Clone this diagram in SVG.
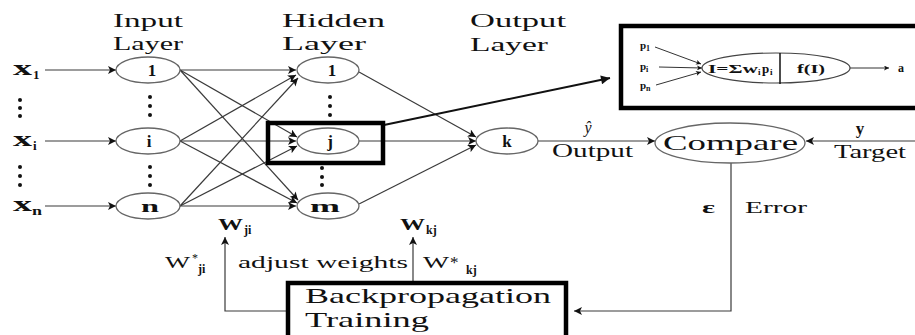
<svg xmlns="http://www.w3.org/2000/svg" width="915" height="335" viewBox="0 0 915 335">
<style>
text{font-family:"Liberation Serif","Times New Roman",serif;fill:#111}
.b{font-weight:bold}
.h{font-size:19px}
.nd{fill:#fff;stroke:#666;stroke-width:1.3}
.ln{stroke:#3a3a3a;stroke-width:1.2;fill:none}
.lk{stroke:#3a3a3a;stroke-width:1.2;fill:none;marker-end:url(#ah)}
.thick{fill:none;stroke:#000;stroke-width:4.5}
.lab{font-size:17px;font-weight:bold}
.dot{fill:#111}
</style>
<defs>
<marker id="ah" viewBox="0 0 10 10" refX="10" refY="5" markerWidth="9" markerHeight="8" markerUnits="userSpaceOnUse" orient="auto">
<path d="M0,0 L10,5 L0,10 L2.5,5 z" fill="#111"/>
</marker>
<marker id="as" viewBox="0 0 10 10" refX="10" refY="5" markerWidth="6" markerHeight="5" markerUnits="userSpaceOnUse" orient="auto">
<path d="M0,0 L10,5 L0,10 L2.5,5 z" fill="#111"/>
</marker>
<marker id="ab" viewBox="0 0 10 10" refX="10" refY="5" markerWidth="13" markerHeight="9" markerUnits="userSpaceOnUse" orient="auto">
<path d="M0,0 L10,5 L0,10 z" fill="#111"/>
</marker>
</defs>

<!-- layer titles -->
<g id="titles">
<text class="h" x="113" y="27" textLength="70" lengthAdjust="spacingAndGlyphs">Input</text>
<text class="h" x="113" y="50" textLength="70" lengthAdjust="spacingAndGlyphs">Layer</text>
<text class="h" x="282" y="27" textLength="103" lengthAdjust="spacingAndGlyphs">Hidden</text>
<text class="h" x="282" y="50" textLength="84" lengthAdjust="spacingAndGlyphs">Layer</text>
<text class="h" x="470" y="27" textLength="96" lengthAdjust="spacingAndGlyphs">Output</text>
<text class="h" x="470" y="51" textLength="78" lengthAdjust="spacingAndGlyphs">Layer</text>
</g>

<!-- connectors -->
<g id="connectors">
<line class="lk" x1="45" y1="70" x2="116" y2="70"/>
<line class="lk" x1="45" y1="141" x2="116" y2="141"/>
<line class="lk" x1="45" y1="206" x2="116" y2="206"/>
<line class="lk" x1="180" y1="70" x2="296" y2="70"/>
<line class="lk" x1="180" y1="70" x2="297" y2="137"/>
<line class="lk" x1="180" y1="70" x2="298" y2="200"/>
<line class="lk" x1="180" y1="141" x2="296" y2="75"/>
<line class="lk" x1="180" y1="141" x2="296" y2="141"/>
<line class="lk" x1="180" y1="141" x2="297" y2="203"/>
<line class="lk" x1="180" y1="206" x2="298" y2="78"/>
<line class="lk" x1="180" y1="206" x2="297" y2="146"/>
<line class="lk" x1="180" y1="206" x2="296" y2="206"/>
<line class="lk" x1="359" y1="72" x2="476" y2="137"/>
<line class="lk" x1="359" y1="141" x2="476" y2="141"/>
<line class="lk" x1="359" y1="204" x2="476" y2="145"/>
<line class="lk" x1="538" y1="141" x2="655" y2="141"/>
<line class="lk" x1="915" y1="141" x2="806" y2="141"/>
<polyline class="lk" points="731,163 731,311 574,311"/>
<polyline class="lk" points="287,311 225,311 225,237"/>
<line class="lk" x1="413" y1="283" x2="413" y2="237"/>
<line x1="384" y1="125" x2="610" y2="78" stroke="#111" stroke-width="2" marker-end="url(#ab)"/>
</g>

<!-- input labels -->
<g id="inputs">
<text class="b" x="13" y="75" font-size="22" textLength="19" lengthAdjust="spacingAndGlyphs">x</text>
<text class="b" x="33" y="79" font-size="13">1</text>
<text class="b" x="13" y="146" font-size="22" textLength="19" lengthAdjust="spacingAndGlyphs">x</text>
<text class="b" x="33" y="150" font-size="13">i</text>
<text class="b" x="13" y="211" font-size="22" textLength="19" lengthAdjust="spacingAndGlyphs">x</text>
<text class="b" x="32" y="215" font-size="13" textLength="10" lengthAdjust="spacingAndGlyphs">n</text>
<circle class="dot" cx="20" cy="100" r="2"/><circle class="dot" cx="20" cy="108" r="2"/><circle class="dot" cx="20" cy="116" r="2"/>
<circle class="dot" cx="20" cy="167" r="2"/><circle class="dot" cx="20" cy="176" r="2"/><circle class="dot" cx="20" cy="185" r="2"/>
</g>

<g id="input-1"><ellipse class="nd" cx="148" cy="70" rx="32" ry="13"/><text class="lab" x="152" y="76" text-anchor="middle">1</text></g>
<g id="input-i"><ellipse class="nd" cx="148" cy="141" rx="32" ry="13"/><text class="lab" x="149" y="147" text-anchor="middle">i</text></g>
<g id="input-n"><ellipse class="nd" cx="148" cy="206" rx="32" ry="13"/><text class="lab" x="150" y="212" text-anchor="middle" textLength="18" lengthAdjust="spacingAndGlyphs">n</text></g>
<g id="input-dots">
<circle class="dot" cx="150" cy="97" r="2"/><circle class="dot" cx="150" cy="106" r="2"/><circle class="dot" cx="150" cy="115" r="2"/>
<circle class="dot" cx="150" cy="167" r="2"/><circle class="dot" cx="150" cy="176" r="2"/><circle class="dot" cx="150" cy="185" r="2"/>
</g>

<g id="hidden-1"><ellipse class="nd" cx="328" cy="70" rx="31" ry="13"/><text class="lab" x="332" y="76" text-anchor="middle">1</text></g>
<g id="hidden-j"><ellipse class="nd" cx="328" cy="141" rx="31" ry="13"/><text class="lab" x="330" y="147" text-anchor="middle">j</text></g>
<g id="hidden-m"><ellipse class="nd" cx="328" cy="206" rx="31" ry="13"/><text class="lab" x="325" y="212" text-anchor="middle" textLength="30" lengthAdjust="spacingAndGlyphs">m</text></g>
<g id="hidden-dots">
<circle class="dot" cx="330" cy="97" r="2"/><circle class="dot" cx="330" cy="106" r="2"/><circle class="dot" cx="330" cy="115" r="2"/>
<circle class="dot" cx="322" cy="168" r="2"/><circle class="dot" cx="322" cy="177" r="2"/><circle class="dot" cx="322" cy="185" r="2"/>
</g>
<g id="j-highlight"><rect class="thick" x="268" y="123" width="115" height="40"/></g>

<g id="output-k"><ellipse class="nd" cx="507" cy="141" rx="31" ry="13"/><text class="lab" x="507" y="147" text-anchor="middle">k</text></g>
<g id="output-label">
<text x="588" y="133" font-size="16" font-style="italic" text-anchor="middle">ŷ</text>
<text x="552" y="157" font-size="18" textLength="81" lengthAdjust="spacingAndGlyphs">Output</text>
</g>

<g id="compare"><ellipse class="nd" cx="730" cy="143" rx="75" ry="20"/><text x="663" y="150" font-size="22" textLength="135" lengthAdjust="spacingAndGlyphs">Compare</text></g>
<g id="target">
<text x="860" y="134" font-size="17" class="b" text-anchor="middle">y</text>
<text x="834" y="158" font-size="18" textLength="72" lengthAdjust="spacingAndGlyphs">Target</text>
</g>
<g id="error">
<text x="702" y="213" font-size="16" class="b" textLength="13" lengthAdjust="spacingAndGlyphs">ε</text>
<text x="745" y="213" font-size="17" textLength="62" lengthAdjust="spacingAndGlyphs">Error</text>
</g>

<g id="neuron-inset">
<rect class="thick" x="621" y="26" width="300" height="82"/>
<text class="b" x="640" y="49" font-size="11">p</text><text class="b" x="646" y="51" font-size="8">1</text>
<text class="b" x="640" y="70" font-size="11">p</text><text class="b" x="646" y="72" font-size="8">i</text>
<text class="b" x="640" y="89" font-size="11">p</text><text class="b" x="646" y="91" font-size="8">n</text>
<line x1="655" y1="47" x2="701" y2="64" stroke="#333" stroke-width="1" marker-end="url(#as)"/>
<line x1="659" y1="67" x2="702" y2="68" stroke="#333" stroke-width="1" marker-end="url(#as)"/>
<line x1="656" y1="85" x2="701" y2="72" stroke="#333" stroke-width="1" marker-end="url(#as)"/>
<ellipse cx="776" cy="68" rx="74" ry="15" fill="#fff" stroke="#444" stroke-width="1.2"/>
<line x1="780" y1="53" x2="780" y2="84" stroke="#111" stroke-width="1.5"/>
<text class="b" x="708" y="73" font-size="13" textLength="50" lengthAdjust="spacingAndGlyphs">I=Σw</text>
<text class="b" x="758" y="75" font-size="9">i</text>
<text class="b" x="762" y="73" font-size="13">p</text>
<text class="b" x="770" y="75" font-size="9">i</text>
<text class="b" x="797" y="73" font-size="13" textLength="28" lengthAdjust="spacingAndGlyphs">f(I)</text>
<line x1="850" y1="68" x2="889" y2="68" stroke="#333" stroke-width="1" marker-end="url(#as)"/>
<text class="b" x="898" y="72" font-size="12">a</text>
</g>

<g id="weights">
<text class="b" x="218" y="230" font-size="17" textLength="25" lengthAdjust="spacingAndGlyphs">W</text>
<text class="b" x="244" y="234" font-size="12">ji</text>
<text class="b" x="400" y="230" font-size="17" textLength="25" lengthAdjust="spacingAndGlyphs">W</text>
<text class="b" x="426" y="234" font-size="12">kj</text>
<text x="165" y="268" font-size="17" textLength="25" lengthAdjust="spacingAndGlyphs">W</text>
<text x="192" y="262" font-size="12">*</text>
<text class="b" x="198" y="273" font-size="12">ji</text>
<text x="238" y="268" font-size="17" textLength="170" lengthAdjust="spacingAndGlyphs">adjust weights</text>
<text x="423" y="268" font-size="17" textLength="26" lengthAdjust="spacingAndGlyphs">W</text>
<text x="450" y="268" font-size="17">*</text>
<text class="b" x="466" y="274" font-size="12">kj</text>
</g>

<g id="backprop">
<rect class="thick" x="288" y="283" width="278" height="70" fill="#fff"/>
<text x="305" y="303" font-size="21" textLength="246" lengthAdjust="spacingAndGlyphs">Backpropagation</text>
<text x="305" y="327" font-size="21" textLength="124" lengthAdjust="spacingAndGlyphs">Training</text>
</g>
</svg>
